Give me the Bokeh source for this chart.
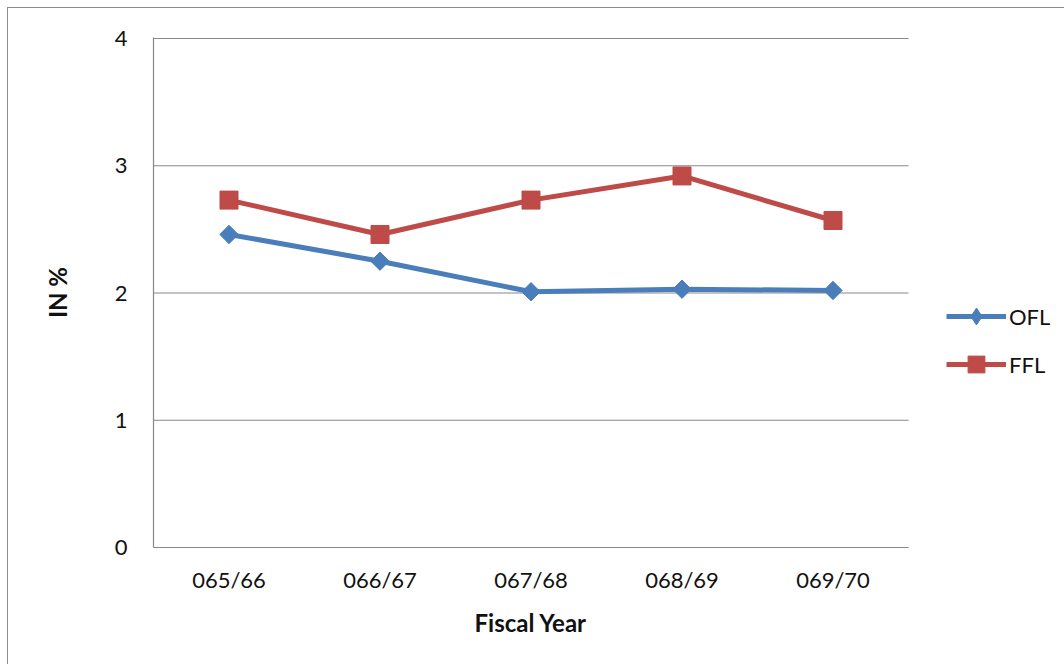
import numpy as np
from bokeh.plotting import figure
from bokeh.models import Range1d, FixedTicker, Legend, LegendItem, Title
from bokeh.embed import file_html
from bokeh.resources import INLINE

# Fiscal years and the two series (in %)
years = ["065/66", "066/67", "067/68", "068/69", "069/70"]
ofl = [2.46, 2.25, 2.01, 2.03, 2.02]
ffl = [2.73, 2.46, 2.73, 2.92, 2.57]
y_ticks = [0, 1, 2, 3, 4]

x = list(range(len(years)))

FONT = "Lato"
BLUE = "#4A7EBB"
RED = "#BE4B48"
GRID = "#888888"

# plot area: one unit per fiscal year; the right part of the canvas holds the legend
x_lo, x_hi = -0.5, len(years) - 0.5
x_end = x_lo + 912 / 151

# the chart sits inside a thin grey box that starts 7px in from the page corner
p = figure(width=1057, height=657, x_range=Range1d(x_lo, x_end),
           y_range=Range1d(0, 4.008), output_backend="svg", toolbar_location=None,
           min_border_left=145, min_border_right=0, min_border_top=29,
           min_border_bottom=118)
p.margin = (7, 0, 0, 7)
p.styles = {"border-top": "1.5px solid #8C8C8C", "border-left": "1.5px solid #8C8C8C",
            "box-sizing": "border-box"}

p.outline_line_color = None
p.background_fill_color = "white"
p.border_fill_color = "white"

# horizontal grid lines only across the category block
p.xgrid.grid_line_color = None
p.ygrid.grid_line_color = None
p.segment(x0=x_lo, x1=x_hi, y0=y_ticks, y1=y_ticks, line_color=GRID,
          line_width=1.2, level="underlay")

p.yaxis.ticker = FixedTicker(ticks=y_ticks)
p.xaxis.ticker = FixedTicker(ticks=x)
p.xaxis.major_label_overrides = {i: y for i, y in enumerate(years)}
p.xaxis.bounds = (x_lo, x_hi)

# axes
for ax in (p.xaxis[0], p.yaxis[0]):
    ax.axis_line_color = GRID
    ax.axis_line_width = 1.2
    ax.major_tick_line_color = None
    ax.minor_tick_line_color = None
    ax.major_label_text_font = FONT
    ax.major_label_text_font_size = "22px"
    ax.major_label_text_color = "#111111"
    ax.axis_label_text_font = FONT
    ax.axis_label_text_font_style = "bold"
    ax.axis_label_text_font_size = "24px"
    ax.axis_label_text_color = "#111111"

p.yaxis.major_label_standoff = 20
p.xaxis.major_label_standoff = 12
p.yaxis.axis_label = "IN %"
p.yaxis.axis_label_standoff = 40

# small empty band, then the x-axis title centred under the category block
p.add_layout(Title(text=" ", text_font_size="5px", standoff=0), "below")
xt = Title(text="Fiscal Year", align="left", offset=321, standoff=4,
           text_font=FONT, text_font_style="bold", text_font_size="24px",
           text_color="#111111")
p.add_layout(xt, "below")

# series
ofl_line = p.line(x, ofl, line_color=BLUE, line_width=5)
ofl_pts = p.scatter(x, ofl, marker="square", angle=np.pi / 4, size=13,
                    fill_color=BLUE, line_color=BLUE)
ffl_line = p.line(x, ffl, line_color=RED, line_width=5)
ffl_pts = p.scatter(x, ffl, marker="square", size=18,
                    fill_color=RED, line_color=RED)
# diamond swatch for the legend (legend swatches are drawn unrotated);
# its single NaN point draws nothing in the plot area
ofl_key = p.scatter(x=[np.nan], y=[np.nan], marker="diamond",
                    fill_color=BLUE, line_color=BLUE)

legend = Legend(items=[LegendItem(label="OFL", renderers=[ofl_line, ofl_key]),
                       LegendItem(label="FFL", renderers=[ffl_line, ffl_pts])],
                location=(793, 162), orientation="vertical",
                padding=0, margin=0, spacing=6, glyph_width=60, glyph_height=42,
                label_standoff=3, label_text_font=FONT, label_text_font_size="22px",
                label_text_color="#111111", border_line_color=None,
                background_fill_alpha=0)
p.add_layout(legend, "center")

with open("out.html", "w") as f:
    f.write(file_html(p, INLINE))
